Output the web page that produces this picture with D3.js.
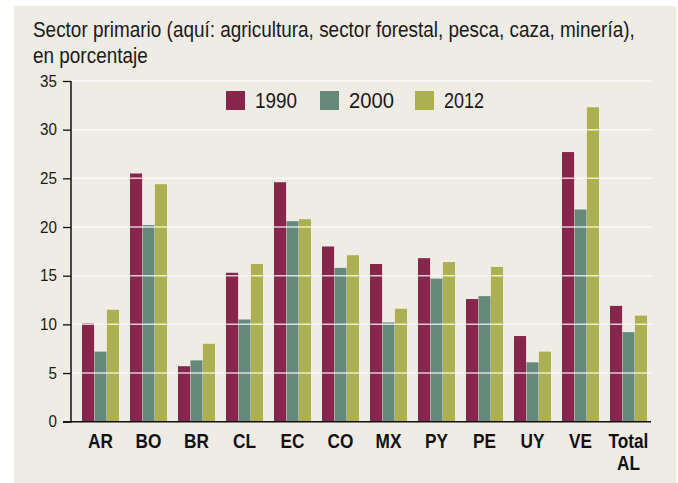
<!DOCTYPE html>
<html><head><meta charset="utf-8">
<script src="https://cdn.jsdelivr.net/npm/d3@7"></script>
<style>
body{margin:0;background:#fff;}
text{font-family:"Liberation Sans",Arial,sans-serif;}
</style></head>
<body><svg id="c" width="678" height="483"></svg>
<script>
const categories = ["AR","BO","BR","CL","EC","CO","MX","PY","PE","UY","VE","Total AL"];
const seriesNames = ["1990","2000","2012"];
const v1990 = [10.1,25.5,5.7,15.3,24.6,18.0,16.2,16.8,12.6,8.8,27.7,11.9];
const v2000 = [7.2,20.2,6.3,10.5,20.6,15.8,10.2,14.7,12.9,6.1,21.8,9.2];
const v2012 = [11.5,24.4,8.0,16.2,20.8,17.1,11.6,16.4,15.9,7.2,32.3,10.9];
const yTicks = [0,5,10,15,20,25,30,35];
const colors = ["#85264A","#67897C","#ADB04F"];
const titleLines = ["Sector primario (aquí: agricultura, sector forestal, pesca, caza, minería),","en porcentaje"];

function condense(sel, f){
  sel.each(function(){
    const L = this.getComputedTextLength();
    d3.select(this).attr("textLength", L*f).attr("lengthAdjust","spacingAndGlyphs");
  });
}

const series = [v1990,v2000,v2012];
const svg = d3.select("#c");
svg.append("rect").attr("x",14).attr("y",6).attr("width",662).attr("height",477).attr("fill","#EFEBE5");

// title: condensed through a horizontal scale so its box stays inside the page
const tg = svg.append("g");
tg.selectAll("text").data(titleLines).join("text")
  .attr("x",0).attr("y",(d,i)=>37+i*26).attr("font-size",21.5).attr("fill","#1a1a1a").text(d=>d);
const natural = tg.select("text").node().getComputedTextLength();
tg.attr("transform",`translate(33,0) scale(${602/natural},1)`);

const x = d3.scaleBand().domain(categories).range([70,659]).paddingInner(11/48).paddingOuter(0.25);
const xs = d3.scaleBand().domain(seriesNames).range([0,x.bandwidth()]).paddingInner(0.03);
const y = d3.scaleLinear().domain([0,35]).range([421.7,81]);

const groups = svg.append("g").selectAll("g").data(categories).join("g")
  .attr("transform",d=>`translate(${x(d)},0)`);
groups.selectAll("rect").data((d,i)=>seriesNames.map((s,j)=>({s,j,v:series[j][i]}))).join("rect")
  .attr("x",d=>xs(d.s)).attr("width",xs.bandwidth())
  .attr("y",d=>y(d.v)).attr("height",d=>y(0)-y(d.v)).attr("fill",d=>colors[d.j]);

// gridlines
svg.append("g").selectAll("line").data(yTicks.filter(t=>t>0)).join("line")
  .attr("x1",71).attr("x2",651).attr("y1",d=>y(d)).attr("y2",d=>y(d))
  .attr("stroke","#fff").attr("stroke-width",1.5).attr("stroke-opacity",0.75);

// y axis
const ya = svg.append("g").attr("transform","translate(71,0)")
  .call(d3.axisLeft(y).tickValues(yTicks).tickSize(8).tickPadding(6));
ya.select(".domain").remove();
ya.selectAll(".tick line").attr("stroke","#111").attr("stroke-width",1.3);
ya.selectAll(".tick text").attr("font-size",16.5).attr("fill","#1a1a1a")
  .attr("font-family","'Liberation Sans',Arial,sans-serif");
condense(ya.selectAll(".tick text"), 0.92);
svg.append("line").attr("x1",71).attr("x2",71).attr("y1",y(35)).attr("y2",y(0)+0.7)
  .attr("stroke","#111").attr("stroke-width",1.5);
svg.append("line").attr("x1",63).attr("x2",651).attr("y1",y(0)).attr("y2",y(0))
  .attr("stroke","#111").attr("stroke-width",1.5);

// x labels
const xl = svg.append("g").selectAll("text").data(categories).join("text")
  .attr("x",d=>x(d)+x.bandwidth()/2).attr("y",448).attr("text-anchor","middle")
  .attr("font-size",20).attr("font-weight","bold").attr("fill","#111");
xl.each(function(d){
  const parts = d.split(" ");
  d3.select(this).selectAll("tspan").data(parts).join("tspan")
    .attr("x",x(d)+x.bandwidth()/2).attr("dy",(p,i)=>i?22:0).text(p=>p);
});
condense(xl.selectAll("tspan"), 0.86);

// legend
const lx = [226,320,415];
const lw = [42,45,40];
const lg = svg.append("g").selectAll("g").data(seriesNames).join("g")
  .attr("transform",(d,i)=>`translate(${lx[i]},91)`);
lg.append("rect").attr("width",19).attr("height",19).attr("fill",(d,i)=>colors[i]);
lg.append("text").attr("x",29).attr("y",17).attr("font-size",22).attr("fill","#1a1a1a")
  .attr("textLength",(d,i)=>lw[i]).attr("lengthAdjust","spacingAndGlyphs").text(d=>d);
</script></body></html>
